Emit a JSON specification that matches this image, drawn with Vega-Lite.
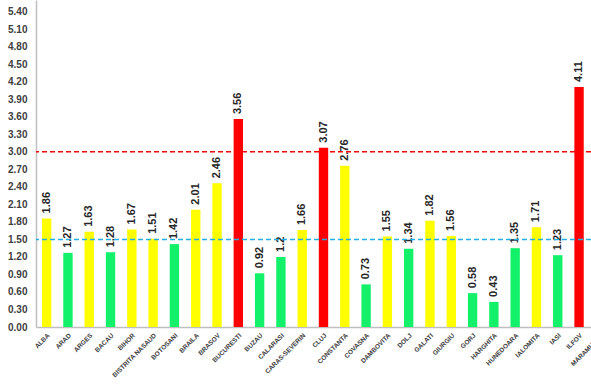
{
  "$schema": "https://vega.github.io/schema/vega-lite/v6.json",
  "autosize": {"type": "none"},
  "width": 555,
  "height": 327,
  "padding": {"left": 36, "top": 0, "right": 0, "bottom": 58},
  "background": "white",
  "config": {"view": {"stroke": null}, "font": "Liberation Sans"},
  "data": {"values": [
    {"judet": "ALBA", "value": 1.86},
    {"judet": "ARAD", "value": 1.27},
    {"judet": "ARGES", "value": 1.63},
    {"judet": "BACAU", "value": 1.28},
    {"judet": "BIHOR", "value": 1.67},
    {"judet": "BISTRITA NASAUD", "value": 1.51},
    {"judet": "BOTOSANI", "value": 1.42},
    {"judet": "BRAILA", "value": 2.01},
    {"judet": "BRASOV", "value": 2.46},
    {"judet": "BUCURESTI", "value": 3.56},
    {"judet": "BUZAU", "value": 0.92},
    {"judet": "CALARASI", "value": 1.2},
    {"judet": "CARAS-SEVERIN", "value": 1.66},
    {"judet": "CLUJ", "value": 3.07},
    {"judet": "CONSTANTA", "value": 2.76},
    {"judet": "COVASNA", "value": 0.73},
    {"judet": "DAMBOVITA", "value": 1.55},
    {"judet": "DOLJ", "value": 1.34},
    {"judet": "GALATI", "value": 1.82},
    {"judet": "GIURGIU", "value": 1.56},
    {"judet": "GORJ", "value": 0.58},
    {"judet": "HARGHITA", "value": 0.43},
    {"judet": "HUNEDOARA", "value": 1.35},
    {"judet": "IALOMITA", "value": 1.71},
    {"judet": "IASI", "value": 1.23},
    {"judet": "ILFOV", "value": 4.11}
  ]},
  "encoding": {
    "x": {
      "field": "judet", "type": "nominal", "sort": null,
      "scale": {
        "domain": ["ALBA","ARAD","ARGES","BACAU","BIHOR","BISTRITA NASAUD","BOTOSANI","BRAILA","BRASOV","BUCURESTI","BUZAU","CALARASI","CARAS-SEVERIN","CLUJ","CONSTANTA","COVASNA","DAMBOVITA","DOLJ","GALATI","GIURGIU","GORJ","HARGHITA","HUNEDOARA","IALOMITA","IASI","ILFOV","MARAMURES"],
        "range": [0, 575],
        "paddingInner": 0.56,
        "paddingOuter": 0.28
      },
      "axis": {
        "title": null,
        "labelAngle": -45,
        "labelFontSize": 6.5,
        "labelFontWeight": "bold",
        "labelColor": "#404040",
        "labelPadding": 5,
        "ticks": false,
        "domainColor": "#BFBFBF",
        "domainWidth": 1.5,
        "labelOverlap": false
      }
    },
    "y": {
      "field": "value", "type": "quantitative",
      "scale": {"domain": [0, 5.6], "nice": false},
      "axis": {
        "title": null,
        "values": [0, 0.3, 0.6, 0.9, 1.2, 1.5, 1.8, 2.1, 2.4, 2.7, 3.0, 3.3, 3.6, 3.9, 4.2, 4.5, 4.8, 5.1, 5.4],
        "format": ".2f",
        "grid": false,
        "ticks": false,
        "labelFontSize": 10,
        "labelFontWeight": "bold",
        "labelColor": "#404040",
        "labelPadding": 9,
        "domainColor": "#BFBFBF",
        "domainWidth": 1.5
      }
    }
  },
  "layer": [
    {
      "mark": {"type": "bar"},
      "encoding": {
        "color": {
          "field": "value", "type": "quantitative", "legend": null,
          "scale": {"type": "threshold", "domain": [1.5, 3], "range": ["#13F16B", "#FFFF00", "#FF0000"]}
        }
      }
    },
    {
      "mark": {"type": "text", "angle": 270, "align": "left", "baseline": "middle", "dx": 5, "fontSize": 11, "fontWeight": "bold", "color": "#262626"},
      "encoding": {"text": {"field": "value", "type": "nominal"}}
    },
    {
      "data": {"values": [{"lvl": 3.0}]},
      "mark": {"type": "rule", "color": "#FF0000", "strokeWidth": 1.5, "strokeDash": [5, 3]},
      "encoding": {"y": {"field": "lvl", "type": "quantitative"}, "x": null}
    },
    {
      "data": {"values": [{"lvl": 1.5}]},
      "mark": {"type": "rule", "color": "#21AEE5", "strokeWidth": 1.5, "strokeDash": [5, 3]},
      "encoding": {"y": {"field": "lvl", "type": "quantitative"}, "x": null}
    }
  ]
}
